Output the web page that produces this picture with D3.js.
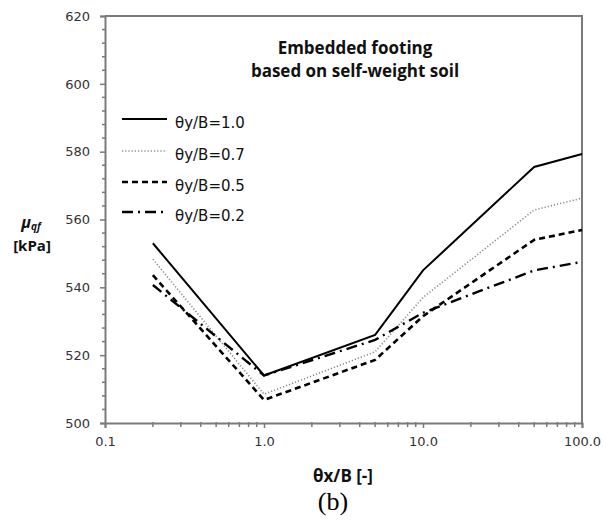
<!DOCTYPE html>
<html>
<head>
<meta charset="utf-8">
<script src="https://cdn.jsdelivr.net/npm/d3@7"></script>
<style>
  body { margin: 0; background: #fff; }
  svg { display: block; font-family: "DejaVu Sans", sans-serif; }
</style>
</head>
<body>
<div id="chart"></div>
<script>
// x positions (θx/B) shared by every series
const xValues = [0.2, 1.0, 5.0, 10.0, 50.0, 100.0];

// series values (kPa)
const ratio10 = [553, 514, 526, 545, 575.5, 579.3];
const ratio07 = [548.3, 508.5, 521, 537, 562.8, 566.3];
const ratio05 = [543.6, 506.8, 518.6, 531.5, 554, 556.9];
const ratio02 = [540.7, 514, 524.5, 532.5, 545, 547.5];

const seriesNames = ["θy/B=1.0", "θy/B=0.7", "θy/B=0.5", "θy/B=0.2"];
const xTickValues = [0.1, 1, 10, 100];
const xTickLabels = ["0.1", "1.0", "10.0", "100.0"];
const yTickValues = [500, 520, 540, 560, 580, 600, 620];

const width = 608, height = 522;
const margin = { top: 16, right: 26, bottom: 99, left: 105 };

const svg = d3.select("#chart").append("svg")
    .attr("width", width)
    .attr("height", height);

const x = d3.scaleLog().domain([0.1, 100]).range([margin.left, width - margin.right]);
const y = d3.scaleLinear().domain([500, 620]).range([height - margin.bottom, margin.top]);

const axisColor = "#7a7a7a";
const labelColor = "#333";
const boldFont = "Open Sans, sans-serif";

// frame (top and right)
svg.append("path")
    .attr("d", `M${x(0.1)},${y(620)}H${x(100)}V${y(500)}`)
    .attr("fill", "none")
    .attr("stroke", axisColor)
    .attr("stroke-width", 2);

// y axis
const yAxis = svg.append("g")
    .attr("transform", `translate(${x(0.1)},0)`)
    .call(d3.axisLeft(y).tickValues(yTickValues).tickSize(5).tickFormat(d3.format("d")));
// minor y ticks
svg.append("g").selectAll("line")
    .data(d3.range(500, 621, 4).filter(v => v % 20 !== 0))
    .join("line")
    .attr("x1", x(0.1) - 3).attr("x2", x(0.1) + 1)
    .attr("y1", d => y(d)).attr("y2", d => y(d))
    .attr("stroke", axisColor).attr("stroke-width", 1.5);

// x axis
const xAxis = svg.append("g")
    .attr("transform", `translate(0,${y(500)})`)
    .call(d3.axisBottom(x).tickValues(xTickValues).tickSize(5)
        .tickFormat((d, i) => xTickLabels[i]));
// minor x ticks
const minorX = [];
[0.1, 1, 10].forEach(dec => d3.range(2, 10).forEach(k => minorX.push(dec * k)));
svg.append("g").selectAll("line")
    .data(minorX)
    .join("line")
    .attr("x1", d => x(d)).attr("x2", d => x(d))
    .attr("y1", y(500) - 1).attr("y2", y(500) + 4)
    .attr("stroke", axisColor).attr("stroke-width", 1.5);

[yAxis, xAxis].forEach(g => {
    g.select(".domain").attr("stroke", axisColor).attr("stroke-width", 2);
    g.selectAll(".tick line").attr("stroke", axisColor).attr("stroke-width", 1.5);
    g.selectAll(".tick text").attr("fill", labelColor).attr("font-size", 13)
        .attr("font-family", "DejaVu Sans, sans-serif");
});
yAxis.selectAll(".tick text").attr("x", -15);
xAxis.selectAll(".tick text").attr("y", 14);

// series styles
const styles = [
    { color: "#000", width: 2, dash: null },
    { color: "#8a8a8a", width: 1.6, dash: "1.2 2" },
    { color: "#000", width: 2.6, dash: "6 4" },
    { color: "#000", width: 2.4, dash: "11 5 2 5" }
];
const allSeries = [ratio10, ratio07, ratio05, ratio02];

const line = d3.line()
    .x((d, i) => x(xValues[i]))
    .y(d => y(d));

svg.append("g").selectAll("path")
    .data(allSeries)
    .join("path")
    .attr("d", d => line(d))
    .attr("fill", "none")
    .attr("stroke", (d, i) => styles[i].color)
    .attr("stroke-width", (d, i) => styles[i].width)
    .attr("stroke-dasharray", (d, i) => styles[i].dash);

// legend
const legend = svg.append("g");
const legendY = [119, 151, 182, 212];
seriesNames.forEach((name, i) => {
    legend.append("line")
        .attr("x1", 122).attr("x2", 167)
        .attr("y1", legendY[i]).attr("y2", legendY[i])
        .attr("stroke", styles[i].color)
        .attr("stroke-width", styles[i].width)
        .attr("stroke-dasharray", styles[i].dash);
    legend.append("text")
        .attr("x", 175).attr("y", legendY[i] + 9)
        .attr("font-size", 15)
        .attr("fill", "#111")
        .text(name);
});

// chart title
const title = svg.append("text")
    .attr("text-anchor", "middle")
    .attr("font-family", boldFont)
    .attr("font-weight", "bold")
    .attr("font-size", 17)
    .attr("fill", "#111");
title.append("tspan").attr("x", 355).attr("y", 54).text("Embedded footing");
title.append("tspan").attr("x", 355).attr("y", 77).text("based on self-weight soil");

// y axis label
const yLabel = svg.append("text")
    .attr("x", 31).attr("y", 228)
    .attr("text-anchor", "middle")
    .attr("font-family", boldFont)
    .attr("font-weight", "bold")
    .attr("font-size", 16)
    .attr("fill", "#111");
yLabel.append("tspan").attr("font-style", "italic").text("μ");
yLabel.append("tspan").attr("font-style", "italic").attr("font-size", 10).attr("dy", 2).text("qf");
svg.append("text")
    .attr("x", 32).attr("y", 251)
    .attr("text-anchor", "middle")
    .attr("font-family", boldFont)
    .attr("font-weight", "bold")
    .attr("font-size", 15)
    .attr("fill", "#111")
    .text("[kPa]");

// x axis label
svg.append("text")
    .attr("x", 343).attr("y", 482)
    .attr("text-anchor", "middle")
    .attr("font-family", boldFont)
    .attr("font-weight", "bold")
    .attr("font-size", 17)
    .attr("fill", "#111")
    .text("θx/B [-]");

// panel label
svg.append("text")
    .attr("x", 333).attr("y", 510)
    .attr("text-anchor", "middle")
    .attr("font-family", "Liberation Serif, DejaVu Serif, serif")
    .attr("font-size", 26)
    .attr("fill", "#000")
    .text("(b)");
</script>
</body>
</html>
